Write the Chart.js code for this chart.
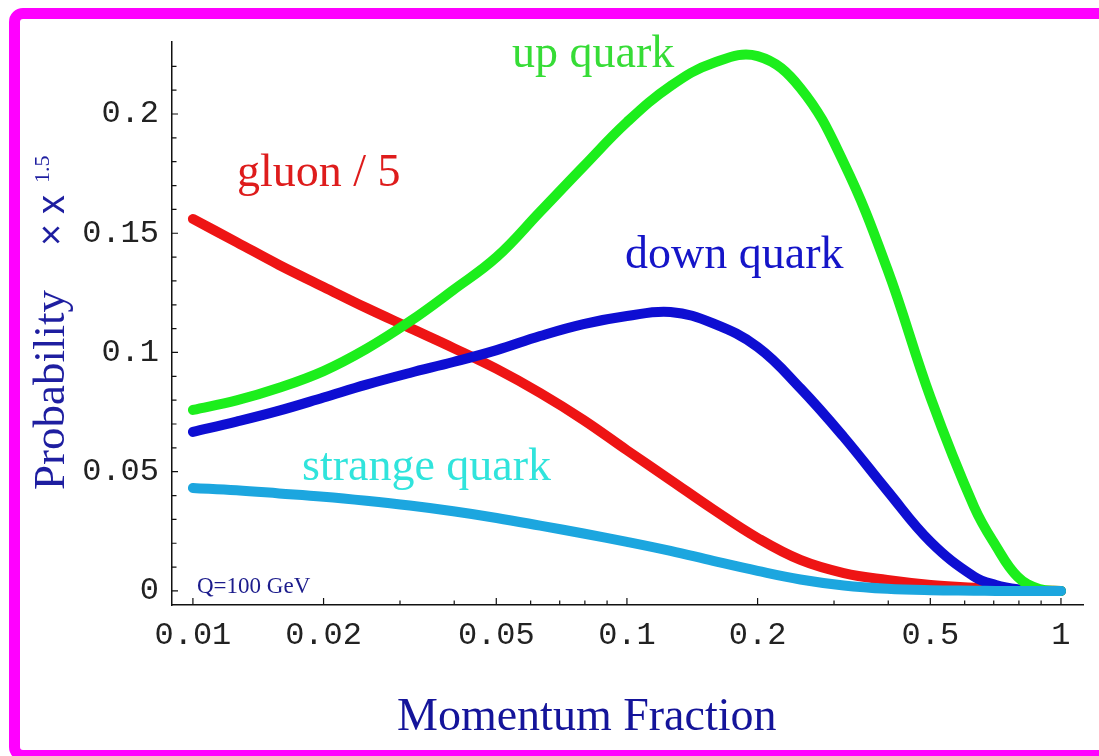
<!DOCTYPE html>
<html><head><meta charset="utf-8">
<script src="https://cdn.jsdelivr.net/npm/chart.js@4.4.1/dist/chart.umd.min.js"></script>
<style>
html,body{margin:0;padding:0;background:#fff;overflow:hidden}
#wrap{position:relative;width:1099px;height:756px;overflow:hidden}
canvas{position:absolute;left:0;top:0}
#frame{position:absolute;left:9px;top:8px;width:1200px;height:753px;box-sizing:border-box;border:11px solid #ff00ff;border-radius:14px;pointer-events:none}
</style></head>
<body><div id="wrap"><canvas id="c" width="1099" height="756"></canvas><div id="frame"></div></div>
<script>
// ---- data ----
const xValues   = [0.01,0.0126,0.0158,0.02,0.0251,0.0316,0.0398,0.0501,0.0631,0.0794,0.1,0.126,0.158,0.2,0.251,0.316,0.398,0.501,0.631,0.708,0.794,0.891,1];
const upQuark   = [0.0759,0.0799,0.0852,0.0922,0.1015,0.1130,0.1262,0.1400,0.1590,0.1780,0.1966,0.2117,0.2214,0.2243,0.2109,0.1795,0.1350,0.0809,0.0352,0.0189,0.0060,0.0008,0];
const downQuark = [0.0667,0.0710,0.0756,0.0811,0.0865,0.0914,0.0960,0.1010,0.1069,0.1119,0.1153,0.1170,0.1122,0.1023,0.0850,0.0645,0.0420,0.0205,0.0060,0.0025,0.0007,0.0001,0];
const gluon5    = [0.1560,0.1463,0.1367,0.1275,0.1187,0.1103,0.1019,0.0931,0.0830,0.0717,0.0590,0.0465,0.0342,0.0222,0.0130,0.0075,0.0046,0.0025,0.0013,0.0008,0.0004,0.0001,0];
const strange   = [0.0432,0.0422,0.0409,0.0395,0.0378,0.0358,0.0334,0.0306,0.0274,0.0241,0.0206,0.0168,0.0126,0.0084,0.0048,0.0023,0.0009,0.0003,0.0001,0,0,0,0];

const xTickValues = [0.01,0.02,0.05,0.1,0.2,0.5,1];
const xTickLabels = ['0.01','0.02','0.05','0.1','0.2','0.5','1'];
const xMinorTicks = [0.03,0.04,0.06,0.07,0.08,0.09,0.3,0.4,0.6,0.7,0.8,0.9];
const yTickValues = [0,0.05,0.1,0.15,0.2];
const yTickLabels = ['0','0.05','0.1','0.15','0.2'];
const yMinorTicks = [0.01,0.02,0.03,0.04,0.06,0.07,0.08,0.09,0.11,0.12,0.13,0.14,0.16,0.17,0.18,0.19,0.21,0.22];

const seriesNames = ['strange quark','up quark','down quark','gluon / 5'];

function pts(arr){ return xValues.map((x,i)=>({x:x,y:arr[i]})); }

const labels = [
  {text:'up quark',      x:512, y:67,  color:'#36dc36', font:'46px "Liberation Serif"'},
  {text:'gluon / 5',     x:237, y:186, color:'#de1c1c', font:'46px "Liberation Serif"'},
  {text:'down quark',    x:625, y:268, color:'#1515c8', font:'46px "Liberation Serif"'},
  {text:'strange quark', x:302, y:480, color:'#30e4dc', font:'46px "Liberation Serif"'},
  {text:'Q=100 GeV',     x:197, y:593, color:'#1c1c8c', font:'23px "Liberation Serif"'}
];

const decor = {
  id:'decor',
  beforeDatasetsDraw(chart){
    const {ctx, scales:{x,y}, chartArea:a} = chart;
    ctx.save();
    ctx.strokeStyle='#111'; ctx.lineWidth=1.2;
    ctx.beginPath();
    xTickValues.forEach(v=>{const p=x.getPixelForValue(v); ctx.moveTo(p,a.bottom); ctx.lineTo(p,a.bottom-7);});
    xMinorTicks.forEach(v=>{const p=x.getPixelForValue(v); ctx.moveTo(p,a.bottom); ctx.lineTo(p,a.bottom-4.5);});
    yTickValues.forEach(v=>{const p=y.getPixelForValue(v); ctx.moveTo(a.left,p); ctx.lineTo(a.left+6,p);});
    yMinorTicks.forEach(v=>{const p=y.getPixelForValue(v); ctx.moveTo(a.left,p); ctx.lineTo(a.left+4.5,p);});
    ctx.stroke();
    ctx.restore();
  },
  afterDraw(chart){
    const ctx = chart.ctx;
    ctx.save();
    ctx.textAlign='left'; ctx.textBaseline='alphabetic';
    labels.forEach(l=>{ctx.font=l.font; ctx.fillStyle=l.color; ctx.fillText(l.text,l.x,l.y);});
    // x axis title
    ctx.font='46px "Liberation Serif"'; ctx.fillStyle='#14149a';
    ctx.fillText('Momentum Fraction',397,730);
    // y axis title
    ctx.translate(64,490); ctx.rotate(-Math.PI/2);
    ctx.fillStyle='#1e1ea0';
    ctx.font='45px "Liberation Serif"'; ctx.fillText('Probability',0,0);
    ctx.font='38px "Liberation Sans"'; ctx.fillText('\u00d7',244,0);
    ctx.fillText('x',276,0);
    ctx.font='22px "Liberation Serif"'; ctx.fillText('1.5',307,-15);
    ctx.restore();
  }
};

const bg = {id:'bg', beforeDraw(chart){const c=chart.ctx; c.save(); c.fillStyle='#fff'; c.fillRect(0,0,chart.width,chart.height); c.restore();}};

new Chart(document.getElementById('c'), {
  type:'line',
  data:{datasets:[
    {label:seriesNames[0], data:pts(strange),   borderColor:'#1ca6df'},
    {label:seriesNames[1], data:pts(upQuark),   borderColor:'#1cee1c'},
    {label:seriesNames[2], data:pts(downQuark), borderColor:'#0e0ed2'},
    {label:seriesNames[3], data:pts(gluon5),    borderColor:'#ee1414'}
  ]},
  options:{
    responsive:false, animation:false, devicePixelRatio:1,
    layout:{padding:{left:0,top:42,right:16,bottom:0}},
    plugins:{legend:{display:false}, tooltip:{enabled:false}, title:{display:false}},
    elements:{point:{radius:0,hoverRadius:0}, line:{borderWidth:10,borderCapStyle:'round',borderJoinStyle:'round',tension:0.4,fill:false}},
    scales:{
      x:{type:'logarithmic', min:0.00895, max:1.124,
         grid:{display:false}, border:{display:true,color:'#111',width:1.5},
         afterBuildTicks(s){ s.ticks = xTickValues.map(v=>({value:v})); },
         afterFit(s){ s.height = 151; },
         ticks:{autoSkip:false,maxRotation:0,minRotation:0,padding:3,color:'#222',
                font:{family:'"Liberation Mono"',size:32},
                callback(v,i){ return xTickLabels[i]; }}},
      y:{type:'linear', min:-0.0059, max:0.2302,
         grid:{display:false}, border:{display:true,color:'#111',width:1.5},
         afterBuildTicks(s){ s.ticks = yTickValues.map(v=>({value:v})); },
         afterFit(s){ s.width = 172; },
         ticks:{autoSkip:false,padding:5,color:'#222',
                font:{family:'"Liberation Mono"',size:32},
                callback(v,i){ return yTickLabels[i]; }}}
    }
  },
  plugins:[bg,decor]
});
</script>
</body></html>
